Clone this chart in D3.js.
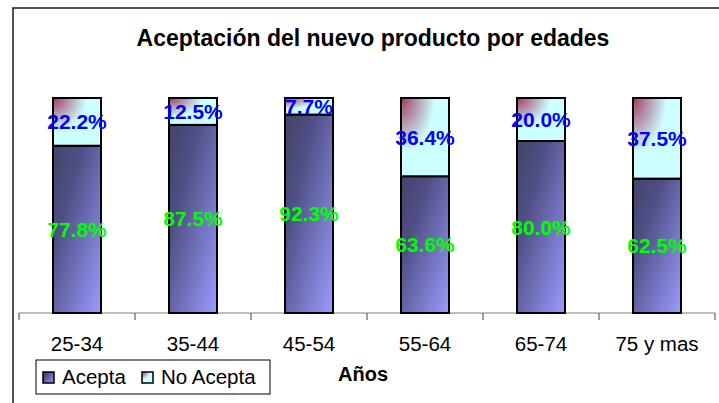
<!DOCTYPE html>
<html>
<head>
<meta charset="utf-8">
<script src="https://cdn.jsdelivr.net/npm/d3@7"></script>
<style>
  html, body { margin: 0; padding: 0; background: #fff; }
  svg { display: block; font-family: "Liberation Sans", Arial, sans-serif; }
</style>
</head>
<body>
<svg id="chart" width="719" height="403"></svg>
<script>
// Age groups and share of respondents (percent) per answer
const categories = ["25-34", "35-44", "45-54", "55-64", "65-74", "75 y mas"];
const acepta     = [77.8, 87.5, 92.3, 63.6, 80.0, 62.5];
const noAcepta   = [22.2, 12.5, 7.7, 36.4, 20.0, 37.5];
const seriesNames = ["Acepta", "No Acepta"];
const title = "Aceptación del nuevo producto por edades";
const xTitle = "Años";

const svg = d3.select("#chart");
const defs = svg.append("defs");

// Acepta: diagonal shade from dark slate to periwinkle
const gA = defs.append("linearGradient").attr("id", "gradAcepta")
  .attr("x1", 0).attr("y1", 0).attr("x2", 1).attr("y2", 1);
gA.append("stop").attr("offset", 0).attr("stop-color", "#44446a");
gA.append("stop").attr("offset", 0.3).attr("stop-color", "#4e4e84");
gA.append("stop").attr("offset", 1).attr("stop-color", "#9b9bff");

// No Acepta: light cyan with a maroon glow from the top-left corner
const gN = defs.append("radialGradient").attr("id", "gradNoAcepta")
  .attr("cx", 0).attr("cy", 0).attr("r", 0.7).attr("fx", 0).attr("fy", 0);
gN.append("stop").attr("offset", 0).attr("stop-color", "#993366");
gN.append("stop").attr("offset", 0.15).attr("stop-color", "#a8587c");
gN.append("stop").attr("offset", 1).attr("stop-color", "#ccffff");

// Chart frame
svg.append("rect")
  .attr("x", 13).attr("y", 8).attr("width", 760).attr("height", 460)
  .attr("fill", "#fff").attr("stroke", "#1a1a1a").attr("stroke-width", 1.5);

svg.append("text")
  .attr("x", 373).attr("y", 46).attr("text-anchor", "middle")
  .attr("font-size", 23).attr("font-weight", "bold").attr("fill", "#000")
  .text(title);

const x = d3.scaleBand().domain(categories).range([19, 715])
  .paddingInner(1 - 48 / 116).paddingOuter((1 - 48 / 116) / 2);
const y = d3.scaleLinear().domain([0, 100]).range([313, 98]);

const rows = categories.map((c, i) => ({ cat: c, acepta: acepta[i], noAcepta: noAcepta[i] }));
const stacked = d3.stack().keys(["acepta", "noAcepta"])(rows);
const fills = { acepta: "url(#gradAcepta)", noAcepta: "url(#gradNoAcepta)" };
const labelColors = { acepta: "#00ff00", noAcepta: "#0000ff" };

// Category axis: gray baseline with ticks between groups
const axisG = svg.append("g");
axisG.append("line")
  .attr("x1", x.range()[0]).attr("x2", x.range()[1])
  .attr("y1", y(0)).attr("y2", y(0))
  .attr("stroke", "#808080").attr("stroke-width", 1.2);
const edges = d3.range(categories.length + 1).map(i => x.range()[0] + i * x.step());
axisG.selectAll("line.tick").data(edges).join("line").attr("class", "tick")
  .attr("x1", d => d).attr("x2", d => d)
  .attr("y1", y(0)).attr("y2", y(0) + 7)
  .attr("stroke", "#404040").attr("stroke-width", 1);

const catAxis = svg.append("g").attr("transform", `translate(0,${y(0)})`)
  .call(d3.axisBottom(x).tickSize(0).tickPadding(0));
catAxis.select(".domain").remove();
catAxis.selectAll("text")
  .attr("y", 38).attr("dy", 0)
  .attr("font-size", 20.5).attr("font-family", "Liberation Sans, Arial, sans-serif")
  .attr("fill", "#000");

// Stacked bars
stacked.forEach(layer => {
  const g = svg.append("g");
  g.selectAll("rect").data(layer).join("rect")
    .attr("x", d => x(d.data.cat))
    .attr("width", x.bandwidth())
    .attr("y", d => y(d[1]))
    .attr("height", d => y(d[0]) - y(d[1]))
    .attr("fill", fills[layer.key])
    .attr("stroke", "#000").attr("stroke-width", 2);
});

// Value labels centred in each segment
stacked.forEach(layer => {
  svg.append("g").selectAll("text").data(layer).join("text")
    .attr("x", d => x(d.data.cat) + x.bandwidth() / 2)
    .attr("y", d => (y(d[0]) + y(d[1])) / 2)
    .attr("dy", "0.36em")
    .attr("text-anchor", "middle")
    .attr("font-size", 21).attr("font-weight", "bold")
    .attr("fill", labelColors[layer.key])
    .text(d => d.data[layer.key].toFixed(1) + "%");
});

// Axis title
svg.append("text")
  .attr("x", 363).attr("y", 381).attr("text-anchor", "middle")
  .attr("font-size", 20).attr("font-weight", "bold").attr("fill", "#000")
  .text(xTitle);

// Legend
const legend = svg.append("g");
legend.append("rect")
  .attr("x", 36).attr("y", 360).attr("width", 234).attr("height", 34)
  .attr("fill", "#fff").attr("stroke", "#000").attr("stroke-width", 1);
const legendX = [43, 142];
seriesNames.forEach((name, i) => {
  const key = i === 0 ? "acepta" : "noAcepta";
  legend.append("rect")
    .attr("x", legendX[i]).attr("y", 372).attr("width", 11).attr("height", 11)
    .attr("fill", fills[key]).attr("stroke", "#000").attr("stroke-width", 1.5);
  legend.append("text")
    .attr("x", legendX[i] + 19).attr("y", 384)
    .attr("font-size", 20.5).attr("fill", "#000")
    .text(name);
});
</script>
</body>
</html>
